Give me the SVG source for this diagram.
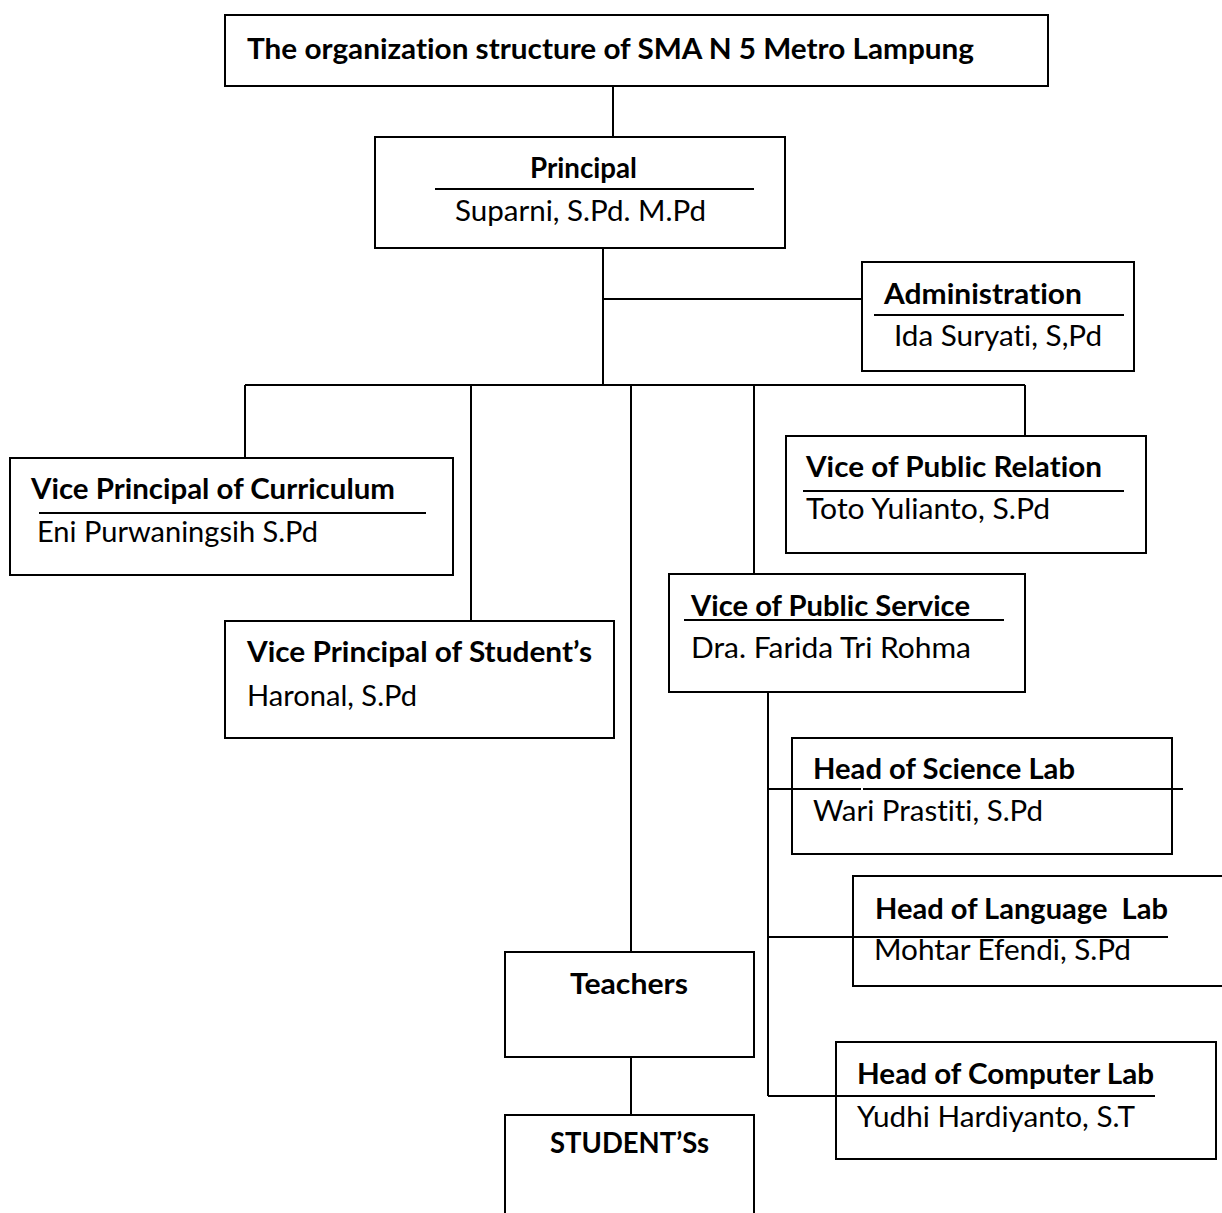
<svg xmlns="http://www.w3.org/2000/svg" width="1222" height="1213" viewBox="0 0 1222 1213">
<style>
.box{fill:#fff;stroke:#000;stroke-width:2}
.ln{stroke:#000;stroke-width:2;fill:none}
.b,.r{font-family:Lato,"Open Sans","Liberation Sans",sans-serif;font-size:28px;fill:#000;font-variant-ligatures:none;font-feature-settings:"liga" 0,"clig" 0}
.b{font-weight:bold}
.r{font-weight:normal}
</style>
<rect width="1222" height="1213" fill="#fff"/>
<g id="connectors">
<line class="ln" x1="613" y1="86" x2="613" y2="137"/>
<line class="ln" x1="603" y1="248" x2="603" y2="385"/>
<line class="ln" x1="603" y1="299" x2="862" y2="299"/>
<line class="ln" x1="245" y1="385" x2="1025" y2="385"/>
<line class="ln" x1="245" y1="385" x2="245" y2="458"/>
<line class="ln" x1="471" y1="385" x2="471" y2="621"/>
<line class="ln" x1="631" y1="385" x2="631" y2="952"/>
<line class="ln" x1="754" y1="385" x2="754" y2="574"/>
<line class="ln" x1="1025" y1="385" x2="1025" y2="436"/>
<line class="ln" x1="768" y1="692" x2="768" y2="1096"/>
<line class="ln" x1="631" y1="1057" x2="631" y2="1115"/>
</g>
<g id="title">
<rect class="box" x="225" y="15" width="823" height="71"/>
<text class="b" x="247" y="59" textLength="727" lengthAdjust="spacingAndGlyphs">The organization structure of SMA N 5 Metro Lampung</text>
</g>
<g id="principal">
<rect class="box" x="375" y="137" width="410" height="111"/>
<text class="b" x="530" y="178" textLength="107" lengthAdjust="spacingAndGlyphs">Principal</text>
<line class="ln" x1="435" y1="189" x2="754" y2="189"/>
<text class="r" x="455" y="221" textLength="251" lengthAdjust="spacingAndGlyphs">Suparni, S.Pd. M.Pd</text>
</g>
<g id="administration">
<rect class="box" x="862" y="262" width="272" height="109"/>
<text class="b" x="884" y="304" textLength="198" lengthAdjust="spacingAndGlyphs">Administration</text>
<line class="ln" x1="874" y1="315" x2="1124" y2="315"/>
<text class="r" x="894" y="346" textLength="208" lengthAdjust="spacingAndGlyphs">Ida Suryati, S,Pd</text>
</g>
<g id="vp-curriculum">
<rect class="box" x="10" y="458" width="443" height="117"/>
<text class="b" x="31" y="499" textLength="364" lengthAdjust="spacingAndGlyphs">Vice Principal of Curriculum</text>
<line class="ln" x1="39" y1="513" x2="426" y2="513"/>
<text class="r" x="37" y="542" textLength="281" lengthAdjust="spacingAndGlyphs">Eni Purwaningsih S.Pd</text>
</g>
<g id="vp-students">
<rect class="box" x="225" y="621" width="389" height="117"/>
<text class="b" x="247" y="662" textLength="345" lengthAdjust="spacingAndGlyphs">Vice Principal of Student’s</text>
<text class="r" x="247" y="706" textLength="170" lengthAdjust="spacingAndGlyphs">Haronal, S.Pd</text>
</g>
<g id="vice-public-relation">
<rect class="box" x="786" y="436" width="360" height="117"/>
<text class="b" x="806" y="477" textLength="296" lengthAdjust="spacingAndGlyphs">Vice of Public Relation</text>
<line class="ln" x1="803" y1="491" x2="1124" y2="491"/>
<text class="r" x="806" y="519" textLength="244" lengthAdjust="spacingAndGlyphs">Toto Yulianto, S.Pd</text>
</g>
<g id="vice-public-service">
<rect class="box" x="669" y="574" width="356" height="118"/>
<text class="b" x="691" y="616" textLength="279" lengthAdjust="spacingAndGlyphs">Vice of Public Service</text>
<line class="ln" x1="684" y1="620" x2="1004" y2="620"/>
<text class="r" x="691" y="658" textLength="280" lengthAdjust="spacingAndGlyphs">Dra. Farida Tri Rohma</text>
</g>
<g id="head-science-lab">
<rect class="box" x="792" y="738" width="380" height="116"/>
<text class="b" x="813" y="779" textLength="262" lengthAdjust="spacingAndGlyphs">Head of Science Lab</text>
<line class="ln" x1="768" y1="789" x2="861" y2="789"/>
<line class="ln" x1="863" y1="789" x2="1183" y2="789"/>
<text class="r" x="813" y="821" textLength="230" lengthAdjust="spacingAndGlyphs">Wari Prastiti, S.Pd</text>
</g>
<g id="head-language-lab">
<rect class="box" x="853" y="876" width="380" height="110"/>
<text class="b" x="875" y="919" textLength="293" lengthAdjust="spacingAndGlyphs" xml:space="preserve">Head of Language  Lab</text>
<line class="ln" x1="768" y1="937" x2="1168" y2="937"/>
<text class="r" x="874" y="960" textLength="257" lengthAdjust="spacingAndGlyphs">Mohtar Efendi, S.Pd</text>
</g>
<g id="head-computer-lab">
<rect class="box" x="836" y="1042" width="380" height="117"/>
<text class="b" x="857" y="1084" textLength="297" lengthAdjust="spacingAndGlyphs">Head of Computer Lab</text>
<line class="ln" x1="768" y1="1096" x2="1155" y2="1096"/>
<text class="r" x="857" y="1127" textLength="278" lengthAdjust="spacingAndGlyphs">Yudhi Hardiyanto, S.T</text>
</g>
<g id="teachers">
<rect class="box" x="505" y="952" width="249" height="105"/>
<text class="b" x="570" y="994" textLength="118" lengthAdjust="spacingAndGlyphs">Teachers</text>
</g>
<g id="students">
<rect class="box" x="505" y="1115" width="249" height="120"/>
<text class="b" x="550" y="1153" textLength="159" lengthAdjust="spacingAndGlyphs">STUDENT’Ss</text>
</g>
</svg>
